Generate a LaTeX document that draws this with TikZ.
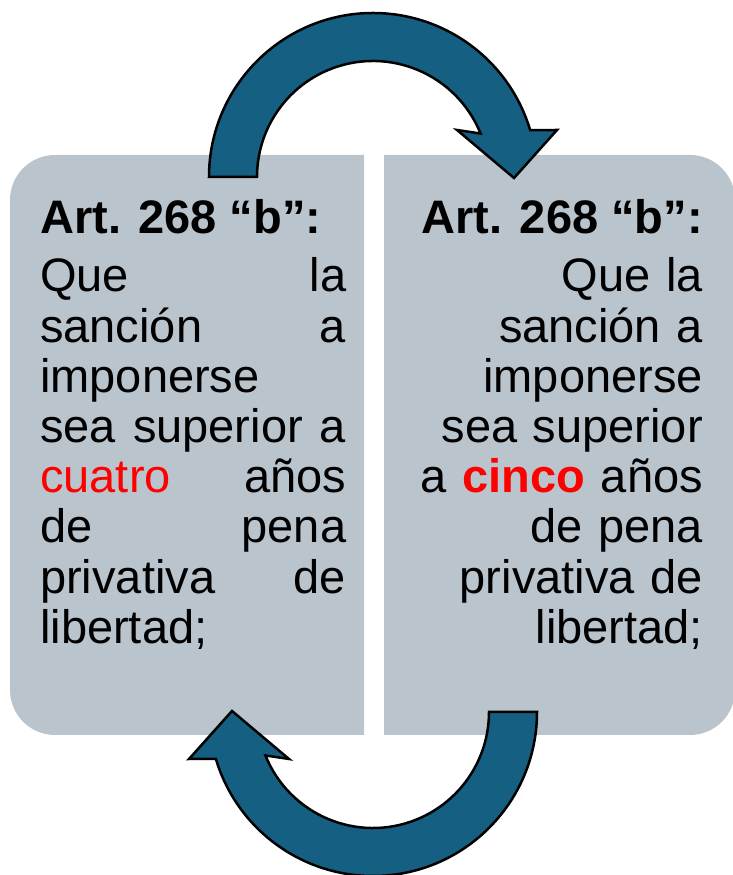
\documentclass[tikz,border=0pt]{standalone}
\usepackage{fontspec}
\setmainfont{Liberation Sans}
\usetikzlibrary{positioning}
\definecolor{boxgray}{HTML}{BAC4CD}
\definecolor{arrowteal}{HTML}{156082}
\tikzset{
  box/.style={fill=boxgray},
  heading/.style={font=\fontsize{47}{50.2}\selectfont\bfseries, inner sep=0pt},
  body/.style={font=\fontsize{47}{50.2}\selectfont, inner sep=0pt, text width=306pt},
  bentarrow/.pic={
    \filldraw[fill=arrowteal, draw=black, line width=2.5pt]
      (180:164pt) arc[start angle=180, end angle=16.6, radius=164pt]
      -- (184,47) -- (141,-1) -- (84,47) -- (22:116pt)
      arc[start angle=22, end angle=180, radius=116pt] -- cycle;
  }
}

\begin{document}
\begin{tikzpicture}[x=1pt,y=1pt]
  \useasboundingbox (0,0) rectangle (733,875);
  % the two boxes
  \fill[box] (364,720) -- (55,720) arc[start angle=90, end angle=180, radius=45pt]
    -- (10,185) arc[start angle=180, end angle=270, radius=45pt] -- (364,140) -- cycle;
  \fill[box] (384,720) -- (690,720) arc[start angle=90, end angle=0, radius=45pt]
    -- (735,185) arc[start angle=0, end angle=-90, radius=45pt] -- (384,140) -- cycle;

  \node[heading, anchor=base west] (art_l) at (40,641) {Art. 268 “b”:};
  \node[body, align=left, below=58pt of art_l.base west, anchor=base west] (txt_l)
    {Que\hfill la\\
     sanción\hfill a\\
     imponerse\\
     sea\hfill superior\hfill a\\
     \textcolor{red}{cuatro}\hfill años\\
     de\hfill pena\\
     privativa\hfill de\\
     libertad;};

  \node[heading, anchor=base east] (art_r) at (703,641) {Art. 268 “b”:};
  \node[body, align=right, below=58pt of art_r.base east, anchor=base east] (txt_r)
    {Que la\\
     sanción a\\
     imponerse\\
     sea superior\\
     a \textcolor{red}{\bfseries cinco} años\\
     de pena\\
     privativa de\\
     libertad;};

  % arrows round the boxes
  \coordinate (top_c) at (373,698);
  \coordinate (bot_c) at (373,163);
  \pic at (top_c) {bentarrow};
  \pic[rotate=180] at (bot_c) {bentarrow};
\end{tikzpicture}
\end{document}
